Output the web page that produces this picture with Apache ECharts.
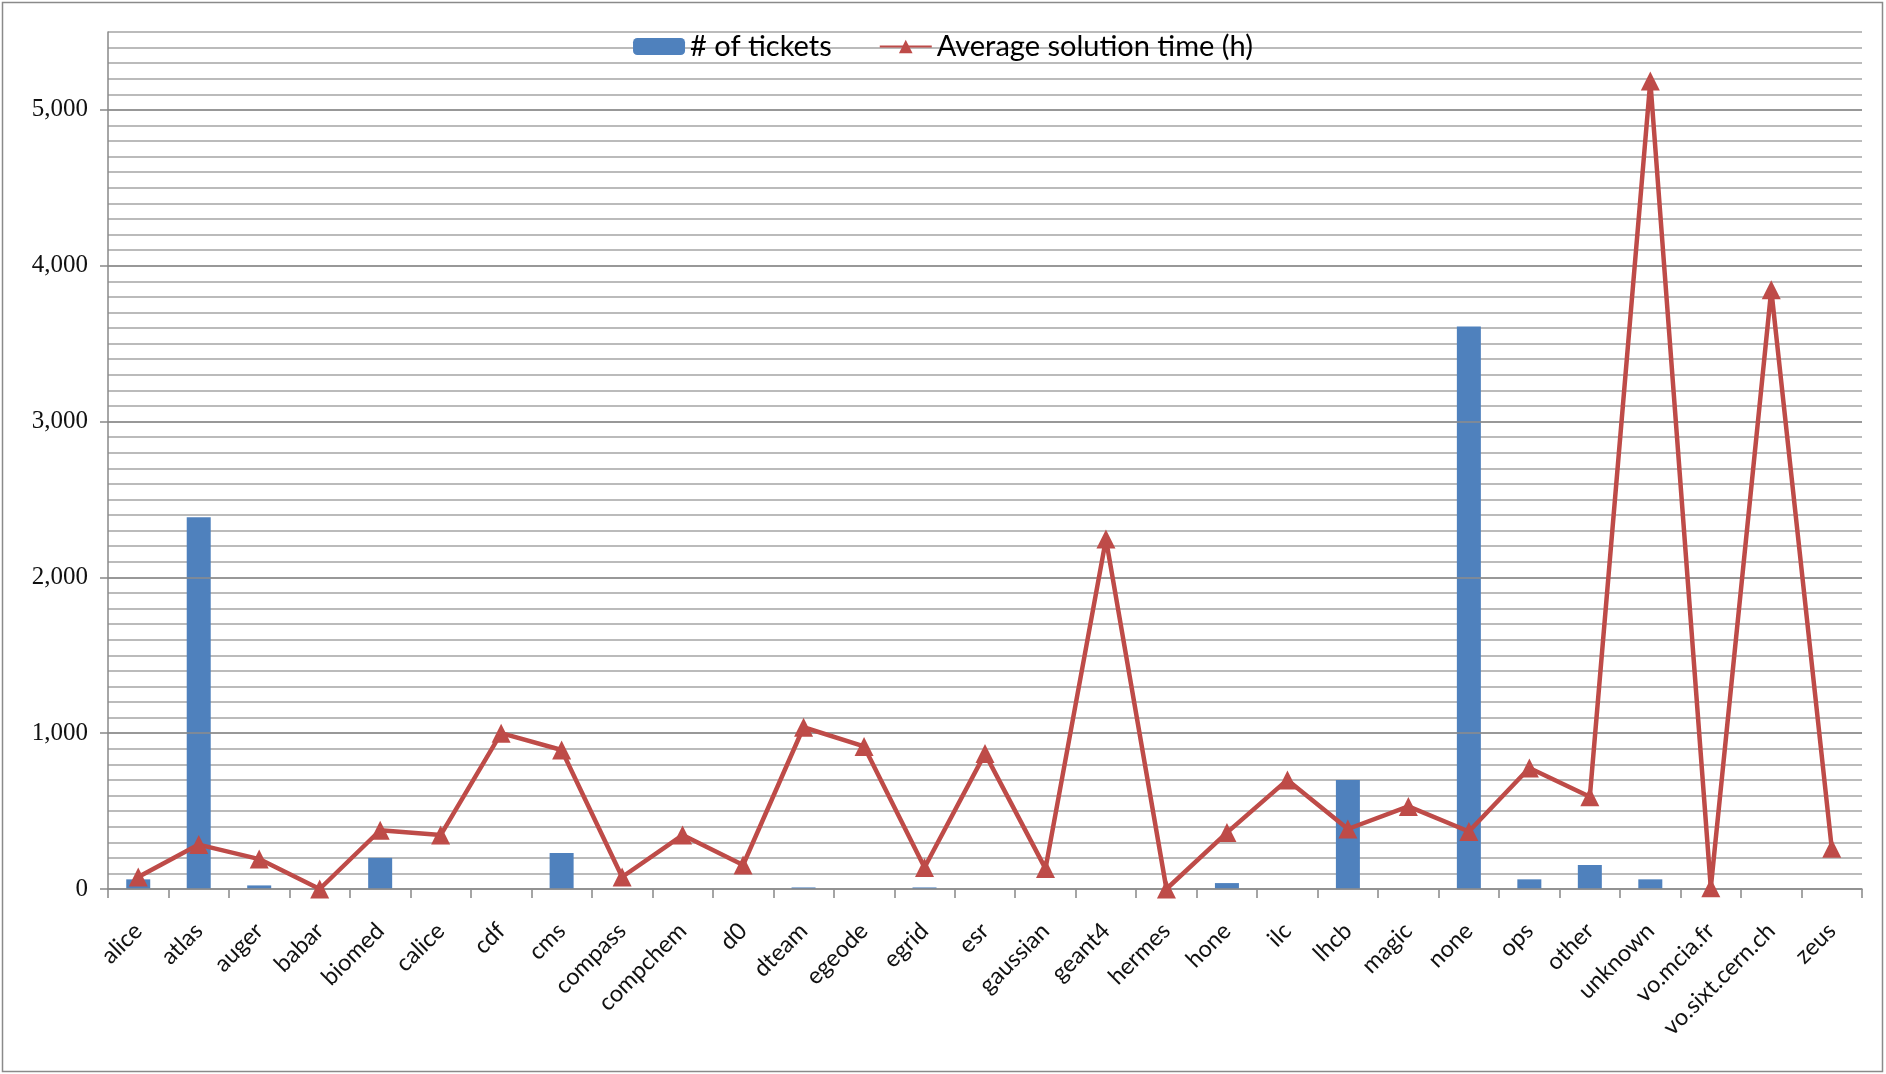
<!DOCTYPE html>
<html>
<head>
<meta charset="utf-8">
<script src="https://cdn.jsdelivr.net/npm/echarts@6/dist/echarts.min.js"></script>
<style>
html,body{margin:0;padding:0;background:#fff;}
#chart{width:1886px;height:1074px;}
</style>
</head>
<body>
<div id="chart"></div>
<script>
const categories = ['alice','atlas','auger','babar','biomed','calice','cdf','cms','compass','compchem','d0','dteam','egeode','egrid','esr','gaussian','geant4','hermes','hone','ilc','lhcb','magic','none','ops','other','unknown','vo.mcia.fr','vo.sixt.cern.ch','zeus'];
const tickets = [62, 2385, 23, 0, 200, 0, 0, 231, 0, 0, 0, 10, 0, 10, 0, 0, 0, 0, 38, 0, 700, 0, 3610, 62, 154, 62, 0, 0, 0];
const avgTime = [77, 285, 192, 0, 377, 346, 1000, 892, 77, 346, 154, 1038, 915, 138, 869, 131, 2246, 0, 362, 700, 385, 530, 369, 777, 592, 5185, 8, 3846, 262];
const yTickLabels = [0, 1000, 2000, 3000, 4000, 5000];

const chart = echarts.init(document.getElementById('chart'));

chart.setOption({
  animation: false,
  backgroundColor: '#fff',
  graphic: [{
    type: 'rect', shape: {x: 2.5, y: 2.5, width: 1880, height: 1069},
    style: {fill: 'none', stroke: '#8a8a8a', lineWidth: 1.5}, silent: true
  }],
  legend: {
    top: 27, left: 'center',
    itemWidth: 52, itemHeight: 17, itemGap: 47,
    textStyle: {fontFamily: 'Lato', fontSize: 29, color: '#000'},
    data: ['# of tickets', 'Average solution time (h)']
  },
  grid: {left: 108, right: 24, top: 32, bottom: 185, containLabel: false},
  xAxis: {
    type: 'category', data: categories,
    axisLine: {lineStyle: {color: '#888', width: 1.5}},
    axisTick: {show: true, length: 9, lineStyle: {color: '#888', width: 1.5}},
    axisLabel: {rotate: 45, fontFamily: 'Lato', fontSize: 23.5, color: '#111', margin: 38, interval: 0}
  },
  yAxis: [{
    type: 'value', min: 0, max: 5500, interval: 1000,
    axisLine: {show: true, lineStyle: {color: '#888', width: 1.5}},
    axisTick: {show: true, length: 8, lineStyle: {color: '#888', width: 1.5}, customValues: yTickLabels},
    axisLabel: {customValues: yTickLabels, fontFamily: 'Liberation Serif', fontSize: 25, color: '#111', margin: 20,
      formatter: v => v.toLocaleString('en-US')},
    splitLine: {show: true, lineStyle: {color: '#8c8c8c', width: 1.5}},
    z: 3
  }, {
    type: 'value', min: 0, max: 5500, interval: 100, position: 'left',
    axisLine: {show: false}, axisTick: {show: false}, axisLabel: {show: false},
    splitLine: {show: true, lineStyle: {color: '#a4a4a4', width: 1.5}},
    z: 1
  }],
  series: [
    {
      name: '# of tickets', type: 'bar', data: tickets, barWidth: 24, yAxisIndex: 0,
      itemStyle: {color: '#4F81BD'}
    },
    {
      name: 'Average solution time (h)', type: 'line', data: avgTime, yAxisIndex: 0,
      symbol: 'triangle', symbolSize: 19,
      lineStyle: {color: '#BE4B48', width: 4.5},
      itemStyle: {color: '#BE4B48'}
    }
  ]
});
</script>
</body>
</html>
